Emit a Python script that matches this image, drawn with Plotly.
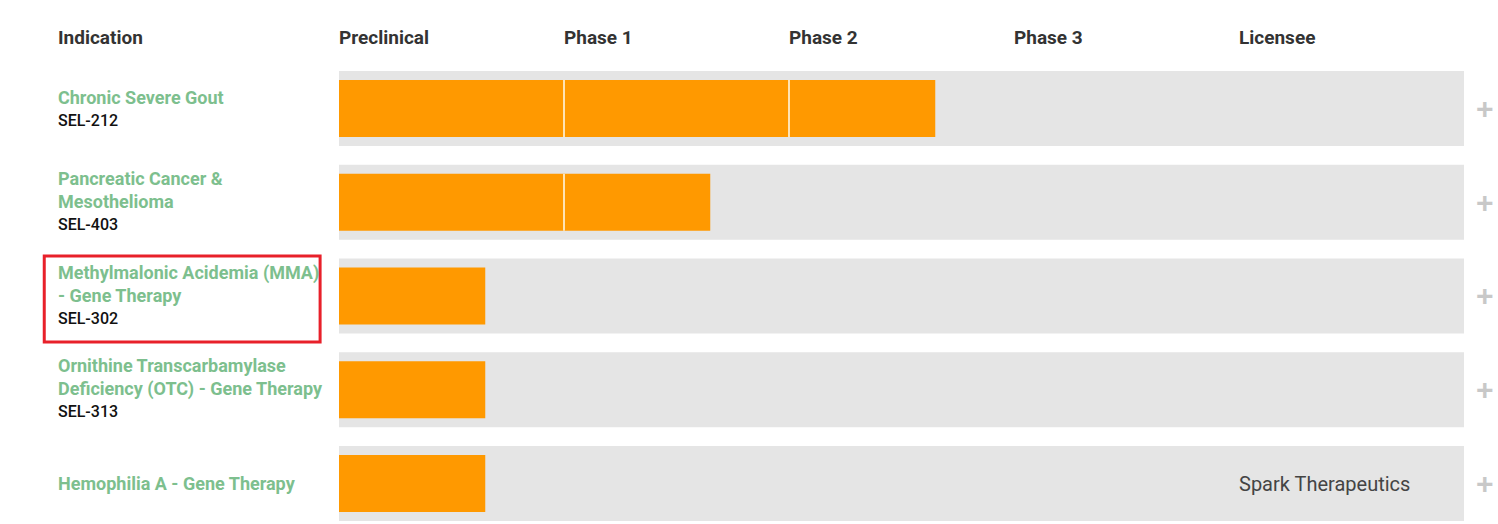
import plotly.graph_objects as go

indications = ["Chronic Severe Gout", "Pancreatic Cancer &<br>Mesothelioma",
               "Methylmalonic Acidemia (MMA)<br>- Gene Therapy",
               "Ornithine Transcarbamylase<br>Deficiency (OTC) - Gene Therapy",
               "Hemophilia A - Gene Therapy"]
codes = ["SEL-212", "SEL-403", "SEL-302", "SEL-313", ""]
progress = [2.65, 1.65, 0.65, 0.65, 0.65]
licensees = ["", "", "", "", "Spark Therapeutics"]
phases = ["Preclinical", "Phase 1", "Phase 2", "Phase 3", "Licensee"]

n = len(indications)
rows = list(range(n))
fig = go.Figure()
fig.add_trace(go.Bar(y=rows, x=[len(phases)] * n, base=0, orientation="h", width=0.8,
                     marker=dict(color="#e5e5e5", line_width=0), hoverinfo="skip"))
for p in range(len(phases)):
    ys = [r for r, v in zip(rows, progress) if v > p]
    seg = [min(1, progress[r] - p) for r in ys]
    if not ys:
        continue
    fig.add_trace(go.Bar(y=ys, x=seg, base=[p] * len(ys), orientation="h", width=0.61,
                         marker=dict(color="#ff9900", line_width=0), hoverinfo="skip"))
    if p > 0:
        fig.add_trace(go.Bar(y=ys, x=[0.004] * len(ys), base=[p - 0.002] * len(ys), orientation="h",
                             width=0.61, marker=dict(color="#ffe3b3", line_width=0), hoverinfo="skip"))

HY = 1 - 38 / 524
XS = -2
ann = []
for i, ph in enumerate(phases):
    ann.append(dict(x=i, y=HY, xref="x", yref="paper", text="<b>" + ph + "</b>", showarrow=False,
                    xanchor="left", yanchor="middle", xshift=XS, font=dict(family="Roboto", size=19, color="#333")))
ann.append(dict(x=-0.2498, y=HY, xref="paper", yref="paper", text="<b>Indication</b>", showarrow=False,
                xanchor="left", yanchor="middle", xshift=XS, font=dict(family="Roboto", size=19, color="#333")))
for i in rows:
    lines = indications[i].count("<br>") + 1
    if codes[i]:
        off = 0.128 if lines == 1 else 0.235
        ann.append(dict(x=-0.2498, y=i + off, xref="paper", yref="y", text=codes[i],
                        showarrow=False, xanchor="left", yanchor="middle", xshift=XS,
                        font=dict(family="Roboto", size=16, color="#111", weight=500)))
        ann.append(dict(x=-0.2498, y=i + off, xref="paper", yref="y", text="<b>" + indications[i] + "</b>",
                        showarrow=False, xanchor="left", yanchor="bottom", yshift=10, xshift=XS, align="left",
                        font=dict(family="Roboto", size=18, color="#7dbf8e", lineposition="none")))
    else:
        ann.append(dict(x=-0.2498, y=i, xref="paper", yref="y", text="<b>" + indications[i] + "</b>",
                        showarrow=False, xanchor="left", yanchor="middle", align="left", xshift=XS,
                        font=dict(family="Roboto", size=18, color="#7dbf8e")))
    if licensees[i]:
        ann.append(dict(x=4, y=i, xref="x", yref="y", text=licensees[i], showarrow=False,
                        xanchor="left", xshift=XS, font=dict(family="Roboto", size=20, color="#444")))
    ann.append(dict(x=1.019, y=i, xref="paper", yref="y", text="<b>+</b>", showarrow=False,
                    xanchor="center", font=dict(family="Arial", size=30, color="#c8c8c8")))

fig.update_layout(
    width=1498, height=524, margin=dict(l=339, r=34, t=0, b=0),
    plot_bgcolor="white", paper_bgcolor="white", barmode="overlay", showlegend=False,
    xaxis=dict(range=[0, 5], visible=False, fixedrange=True),
    yaxis=dict(range=[4.432, -1.157], visible=False, fixedrange=True),
    annotations=ann,
    shapes=[dict(type="rect", xref="paper", yref="paper", x0=-0.262, x1=-0.0168,
                 y0=1 - 342 / 524, y1=1 - 256 / 524, line=dict(color="#e8202a", width=3))],
)
fig.write_html("out.html", config={"displayModeBar": False},
               post_script="document.body.style.margin='0';document.body.style.overflow='hidden';")
